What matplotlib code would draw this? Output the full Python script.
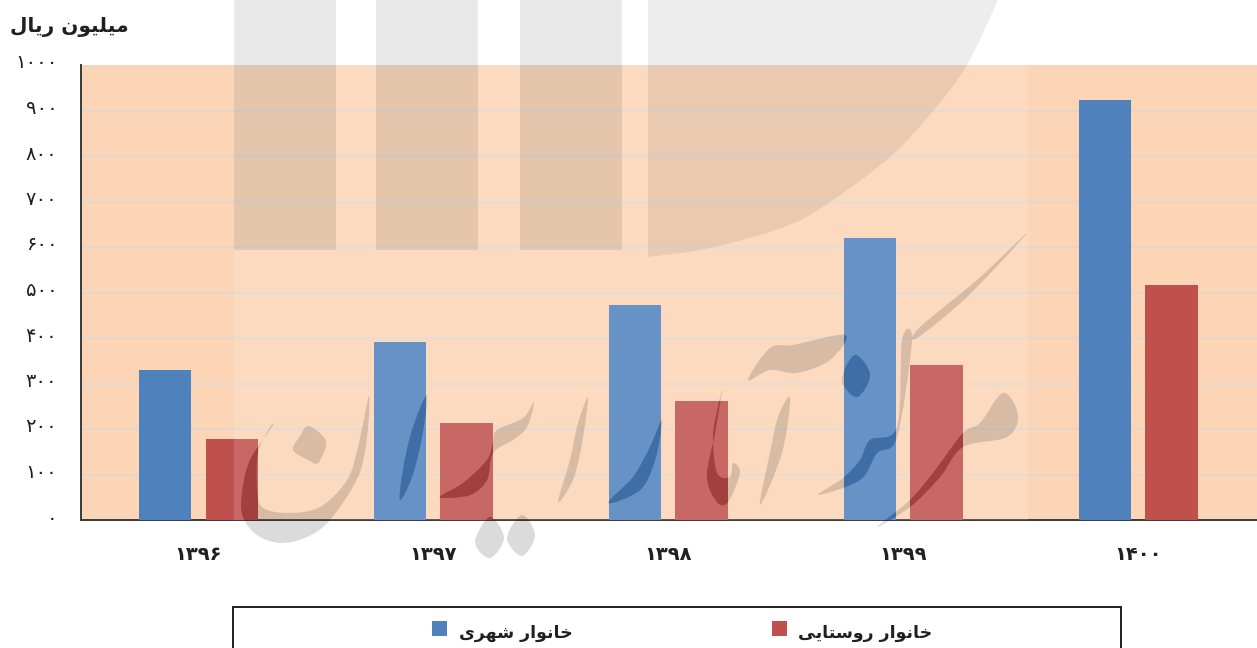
import matplotlib
matplotlib.use("Agg")
import matplotlib.pyplot as plt
from matplotlib.patches import PathPatch, Rectangle
from matplotlib.path import Path
from matplotlib.transforms import ScaledTranslation

plt.rcParams["font.family"] = ["DejaVu Sans"]

# Data
years = ["۱۳۹۶", "۱۳۹۷", "۱۳۹۸", "۱۳۹۹", "۱۴۰۰"]
urban = [330, 391, 472, 620, 923]
rural = [178, 213, 261, 340, 516]
y_ticks = [0, 100, 200, 300, 400, 500, 600, 700, 800, 900, 1000]
y_labels = ["۰", "۱۰۰", "۲۰۰", "۳۰۰", "۴۰۰", "۵۰۰", "۶۰۰", "۷۰۰", "۸۰۰", "۹۰۰", "۱۰۰۰"]
y_title = "میلیون ریال"
urban_label = "خانوار شهری"
rural_label = "خانوار روستایی"

# --------------------------
# Persian shaping (matplotlib does not join letters or run RTL)
# forms are isolated, final, initial, medial
# --------------------------
FORMS = {
    "م": "\ufee1\ufee2\ufee3\ufee4",
    "ی": "\ufbfc\ufbfd\ufbfe\ufbff",
    "ل": "\ufedd\ufede\ufedf\ufee0",
    "ن": "\ufee5\ufee6\ufee7\ufee8",
    "خ": "\ufea5\ufea6\ufea7\ufea8",
    "ش": "\ufeb5\ufeb6\ufeb7\ufeb8",
    "ه": "\ufee9\ufeea\ufeeb\ufeec",
    "س": "\ufeb1\ufeb2\ufeb3\ufeb4",
    "ت": "\ufe95\ufe96\ufe97\ufe98",
    "ا": "\ufe8d\ufe8e\ufe8d\ufe8e",
    "و": "\ufeed\ufeee\ufeed\ufeee",
    "ر": "\ufead\ufeae\ufead\ufeae",
}
RIGHT_ONLY = "اور"


def shape(text):
    out = []
    for i, ch in enumerate(text):
        if ch not in FORMS:
            out.append(ch)
            continue
        prev = text[i - 1] if i > 0 else " "
        nxt = text[i + 1] if i < len(text) - 1 else " "
        join_prev = prev in FORMS and prev not in RIGHT_ONLY
        join_next = nxt in FORMS and ch not in RIGHT_ONLY
        out.append(FORMS[ch][(1 if join_prev else 0) + (2 if join_next else 0)])
    return "".join(reversed(out))


fig = plt.figure(figsize=(12.57, 6.48), dpi=100, facecolor="white")
ax = fig.add_axes([81 / 1257, 128 / 648, 1176 / 1257, 455 / 648], zorder=1)
ax.set_facecolor("#FBD5B5")

# --------------------------
# Bars
# --------------------------
x = list(range(len(years)))
bar_w = 0.223
off = 0.1417
blue = ax.bar([i - off for i in x], urban, bar_w, color="#4F81BD", zorder=3)
red = ax.bar([i + off for i in x], rural, bar_w, color="#C0504D", zorder=3)

ax.set_xlim(-0.5, 4.506)
ax.set_ylim(0, 1000)
ax.set_yticks(y_ticks)
ax.set_yticklabels(y_labels, fontsize=14, color="#231F20")
ax.set_xticks(x)
ax.set_xticklabels(years, fontsize=14, fontweight="bold", color="#231F20")
ax.tick_params(axis="y", length=0, pad=17)
ax.tick_params(axis="x", length=0, pad=18)
ax.grid(axis="y", color="#DAD8D6", linewidth=1.1, zorder=1)
ax.set_axisbelow(True)
for side in ["top", "right"]:
    ax.spines[side].set_visible(False)
for side in ["left", "bottom"]:
    ax.spines[side].set_color("#3A3A3A")
    ax.spines[side].set_linewidth(1.4)

# y labels sit a little above their grid lines
up = ScaledTranslation(0, 4 / 100, fig.dpi_scale_trans)
for lbl in ax.get_yticklabels():
    lbl.set_transform(lbl.get_transform() + up)

# --------------------------
# Watermark and legend, in picture pixels
# --------------------------
over = fig.add_axes([0, 0, 1, 1], zorder=2)
over.set_xlim(0, 1257)
over.set_ylim(648, 0)
over.axis("off")


def smooth(pts, closed=True):
    n = len(pts)
    get = (lambda k: pts[k % n]) if closed else (lambda k: pts[min(max(k, 0), n - 1)])
    verts = [pts[0]]
    codes = [Path.MOVETO]
    for i in range(n if closed else n - 1):
        p0, p1, p2, p3 = get(i - 1), get(i), get(i + 1), get(i + 2)
        verts.append((p1[0] + (p2[0] - p0[0]) / 6, p1[1] + (p2[1] - p0[1]) / 6))
        verts.append((p2[0] - (p3[0] - p1[0]) / 6, p2[1] - (p3[1] - p1[1]) / 6))
        verts.append(p2)
        codes += [Path.CURVE4] * 3
    return verts, codes


over.add_patch(Rectangle((234, 65), 794, 455, fc="white", alpha=0.14, lw=0))

for left in [234, 376, 520]:
    over.add_patch(Rectangle((left, 0), 102, 250, fc="black", alpha=0.09, lw=0))

disc = [(998, 0), (967, 65), (933, 111), (890, 157), (830, 202), (787, 226), (710, 248), (648, 257)]
verts, codes = smooth(disc, closed=False)
verts += [(648, 0), (998, 0)]
codes += [Path.LINETO, Path.CLOSEPOLY]
over.add_patch(PathPatch(Path(verts, codes), fc="black", alpha=0.07, lw=0))

strokes = [
    [(369, 396), (367, 437), (358, 477), (330, 520), (307, 537), (280, 543), (257, 535), (243, 517),
     (242, 493), (250, 460), (272, 427), (270, 427), (258, 453), (257, 487), (262, 507), (287, 513),
     (320, 507), (347, 480), (358, 447)],
    [(308, 426), (322, 435), (326, 445), (318, 463), (308, 460), (293, 450), (300, 436)],
    [(427, 395), (422, 437), (412, 477), (400, 500), (403, 470), (412, 430)],
    [(442, 498), (470, 495), (487, 480), (493, 453), (513, 440), (527, 427), (534, 402), (523, 418),
     (497, 430), (493, 442), (487, 460), (463, 483), (442, 495)],
    [(588, 398), (582, 443), (573, 480), (558, 502), (570, 460), (578, 423)],
    [(490, 517), (504, 538), (490, 558), (475, 542)],
    [(522, 515), (535, 535), (522, 556), (507, 538)],
    [(662, 420), (655, 460), (640, 490), (608, 503), (633, 477), (650, 447)],
    [(722, 390), (715, 433), (707, 477), (717, 502), (728, 502), (740, 473), (733, 463), (730, 477),
     (717, 473), (713, 437), (718, 407)],
    [(790, 398), (782, 453), (760, 505), (770, 453), (778, 417)],
    [(748, 380), (770, 348), (793, 345), (845, 335), (830, 360), (797, 373), (770, 370)],
    [(855, 355), (870, 375), (857, 397), (842, 380)],
    [(818, 495), (860, 480), (877, 453), (897, 437), (912, 340), (902, 340), (897, 427), (870, 440),
     (860, 460), (843, 478)],
    [(917, 338), (967, 297), (1027, 233), (977, 280), (920, 327)],
    [(877, 527), (910, 507), (940, 477), (963, 447), (1007, 437), (1018, 415), (1003, 393), (980, 423),
     (963, 433), (933, 473), (910, 500)],
]
for s in strokes:
    verts, codes = smooth(s)
    over.add_patch(PathPatch(Path(verts, codes), fc="black", alpha=0.14, lw=0))
    # where a stroke crosses a bar the original goes much darker
    for bars, dark in [(blue, "#3F6EA6"), (red, "#A23F3F")]:
        for b in bars:
            p = PathPatch(Path(verts, codes), fc=dark, lw=0)
            over.add_patch(p)
            p.set_clip_path(b)

over.text(129, 27, shape(y_title), ha="right", va="center", fontsize=14.5, fontweight="bold", color="#231F20")

# legend runs off the bottom of the picture
over.add_patch(Rectangle((233, 607), 888, 60, fc="white", ec="#231F20", lw=1.4))
over.add_patch(Rectangle((432, 621), 15, 15, fc="#4F81BD", lw=0))
over.add_patch(Rectangle((772, 621), 15, 15, fc="#C0504D", lw=0))
over.text(573, 633, shape(urban_label), ha="right", va="center", fontsize=12.5, fontweight="bold", color="#231F20")
over.text(932, 633, shape(rural_label), ha="right", va="center", fontsize=12.5, fontweight="bold", color="#231F20")

fig.savefig("out.png", dpi=100)
